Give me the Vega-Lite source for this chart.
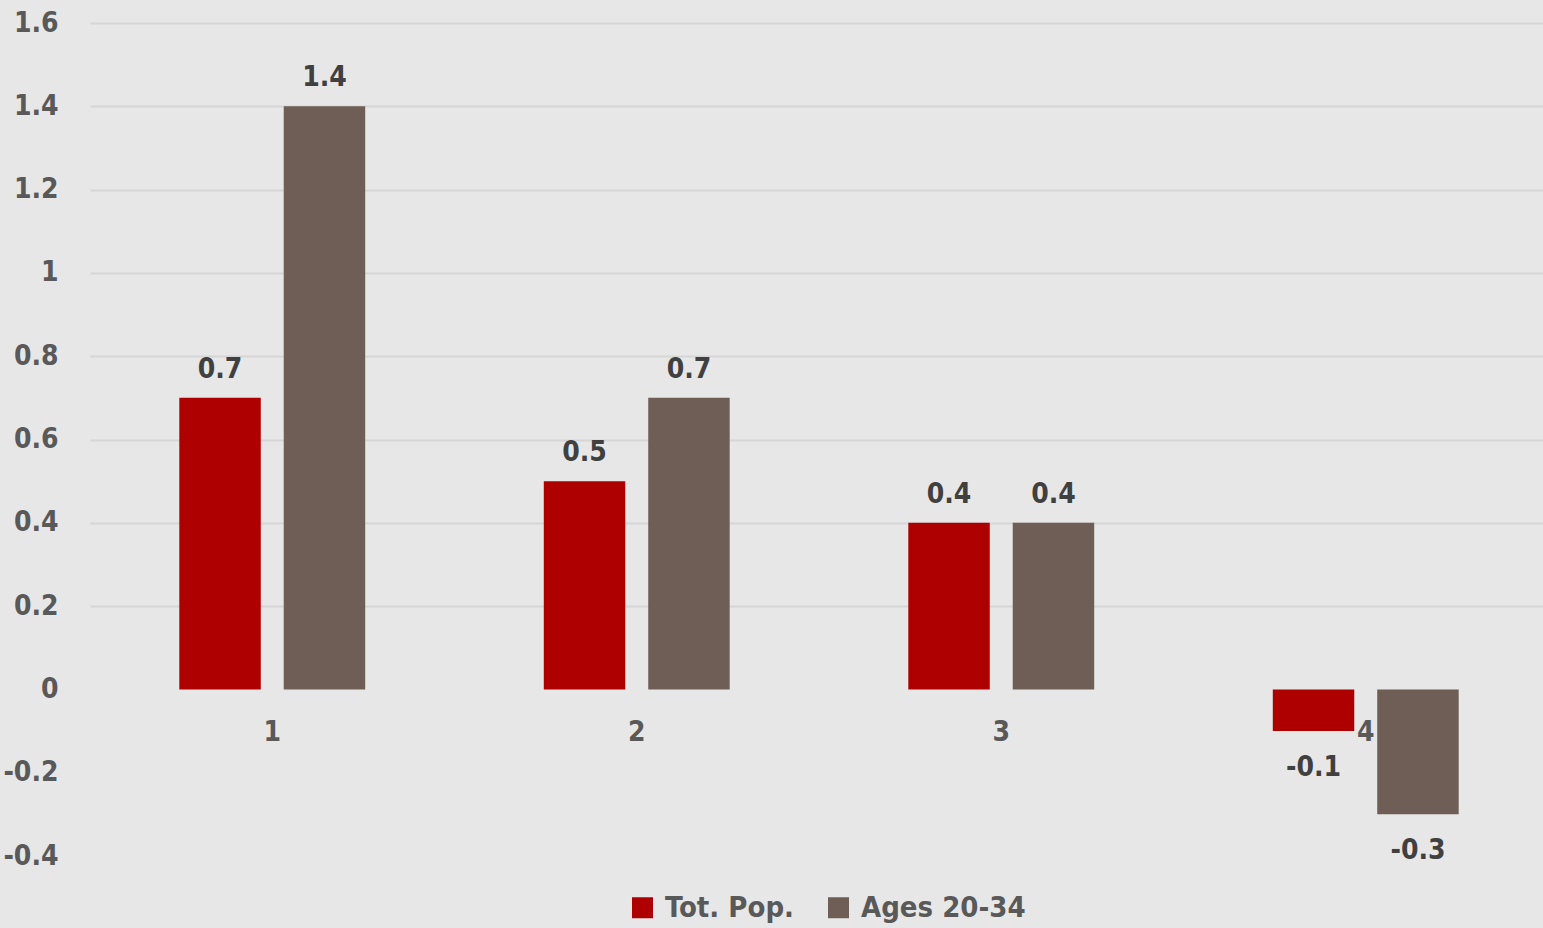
{
  "$schema": "https://vega.github.io/schema/vega-lite/v6.json",
  "width": 1458,
  "height": 833,
  "autosize": "none",
  "padding": {"left": 90, "top": 23, "right": 0, "bottom": 72},
  "background": "#e7e7e7",
  "config": {"view": {"stroke": null}, "font": "DejaVu Sans Condensed, Roboto, sans-serif"},
  "data": {"values": [
    {"cat": "1", "series": "Tot. Pop.", "value": 0.7},
    {"cat": "1", "series": "Ages 20-34", "value": 1.4},
    {"cat": "2", "series": "Tot. Pop.", "value": 0.5},
    {"cat": "2", "series": "Ages 20-34", "value": 0.7},
    {"cat": "3", "series": "Tot. Pop.", "value": 0.4},
    {"cat": "3", "series": "Ages 20-34", "value": 0.4},
    {"cat": "4", "series": "Tot. Pop.", "value": -0.1},
    {"cat": "4", "series": "Ages 20-34", "value": -0.3}
  ]},
  "encoding": {
    "x": {"field": "cat", "type": "nominal", "axis": null, "scale": {"paddingInner": 0.49, "paddingOuter": 0.245}}
  },
  "layer": [
    {
      "mark": {"type": "bar"},
      "encoding": {
        "xOffset": {"field": "series", "type": "nominal", "sort": ["Tot. Pop.", "Ages 20-34"], "scale": {"paddingInner": 0.22}},
        "y": {"field": "value", "type": "quantitative", "scale": {"domain": [-0.4, 1.6], "nice": false},
          "axis": {"values": [-0.4, -0.2, 0, 0.2, 0.4, 0.6, 0.8, 1, 1.2, 1.4, 1.6], "labelExpr": "'' + datum.value", "title": null, "domain": false, "ticks": false, "labelPadding": 32, "labelFontSize": 28, "labelFontWeight": "bold", "labelColor": "#595959", "gridColor": {"condition": {"test": "datum.value <= 0", "value": "transparent"}, "value": "#d6d6d6"}, "gridWidth": 2}},
        "color": {"field": "series", "type": "nominal", "sort": ["Tot. Pop.", "Ages 20-34"],
          "scale": {"domain": ["Tot. Pop.", "Ages 20-34"], "range": ["#ae0000", "#6f5e55"]},
          "legend": {"orient": "none", "legendX": 538, "legendY": 870, "direction": "horizontal", "title": null, "labelFontSize": 29, "labelFontWeight": "bold", "labelColor": "#595959", "labelLimit": 400, "symbolType": "square", "symbolSize": 441, "symbolStrokeWidth": 0, "columnPadding": 30, "labelOffset": 8}}
      }
    },
    {
      "transform": [{"filter": "datum.value >= 0"}],
      "mark": {"type": "text", "baseline": "bottom", "dy": -14, "fontSize": 28, "fontWeight": "bold", "color": "#404040"},
      "encoding": {
        "xOffset": {"field": "series", "type": "nominal", "sort": ["Tot. Pop.", "Ages 20-34"]},
        "y": {"field": "value", "type": "quantitative"},
        "text": {"field": "value", "type": "nominal"}
      }
    },
    {
      "transform": [{"filter": "datum.value < 0"}],
      "mark": {"type": "text", "baseline": "top", "dy": 23, "fontSize": 28, "fontWeight": "bold", "color": "#404040"},
      "encoding": {
        "xOffset": {"field": "series", "type": "nominal", "sort": ["Tot. Pop.", "Ages 20-34"]},
        "y": {"field": "value", "type": "quantitative"},
        "text": {"field": "value", "type": "nominal"}
      }
    },
    {
      "transform": [{"filter": "datum.series == 'Tot. Pop.'"}],
      "mark": {"type": "text", "baseline": "top", "dy": 30, "fontSize": 28, "fontWeight": "bold", "color": "#595959"},
      "encoding": {
        "y": {"datum": 0},
        "text": {"field": "cat", "type": "nominal"}
      }
    }
  ]
}
